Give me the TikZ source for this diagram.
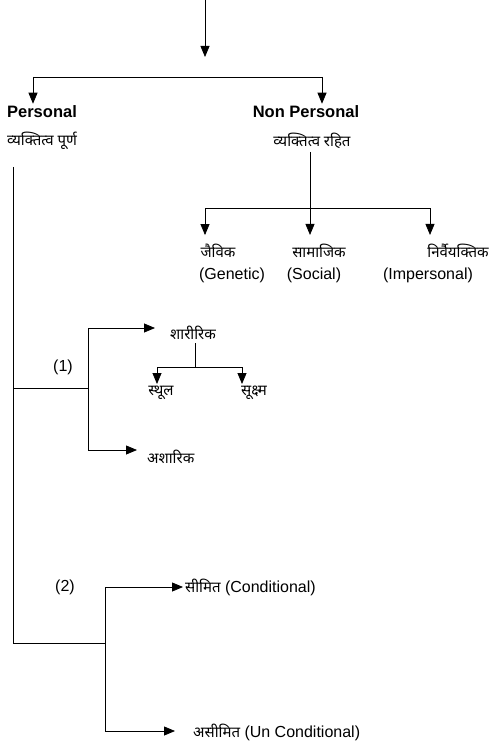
\documentclass[tikz,border=0pt]{standalone}
\usepackage{fontspec}
\setmainfont{Liberation Sans}
\newfontfamily\devafont[Script=Devanagari]{Noto Sans}
\newcommand{\hindi}{\devafont\fontsize{15}{18}\selectfont}
\usetikzlibrary{arrows.meta}

\begin{document}
\begin{tikzpicture}
[x=1pt,y=-1pt,
  headDecorate/.style={font=\bfseries\fontsize{16.5}{19}\selectfont,inner sep=0pt},
  textDecorate/.style={font=\fontsize{16}{19}\selectfont,inner sep=0pt},
  devaDecorate/.style={font=\hindi,inner sep=0pt},
  lineDecorate/.style={-,line width=0.8pt},
  arrowDecorate/.style={-{Triangle[length=11pt,width=9pt]},line width=0.8pt}]
\useasboundingbox (0,0) rectangle (495,746);
%% nodes or labels
\foreach \nodename/\x/\y/\txt in {personal/42/112/Personal, nonpersonal/306/112/Non Personal} {
  \node (\nodename) at (\x,\y) [headDecorate] {\txt};
}
\foreach \nodename/\x/\y/\txt in {vpurn/42/141/व्यक्तित्व पूर्ण, vrahit/312/141/व्यक्तित्व रहित,
    jaivik/218/251/जैविक, samajik/319/251/सामाजिक, nirvai/458/251/निर्वैयक्तिक,
    sthul/161/393/स्थूल, sukshma/254/393/सूक्ष्म} {
  \node (\nodename) at (\x,\y) [devaDecorate] {\txt};
}
\foreach \nodename/\x/\y/\txt in {genetic/232/275/{(Genetic)}, social/314/275/{(Social)},
    impersonal/428/275/{(Impersonal)}, one/63/367/{(1)}, two/65/587/{(2)}} {
  \node (\nodename) at (\x,\y) [textDecorate] {\txt};
}
%% branch labels, left aligned
\foreach \nodename/\x/\y/\txt in {sharirik/170/333/{\hindi शारीरिक}, asharik/147/457/{\hindi अशारिक},
    seemit/185/587/{{\hindi सीमित} (Conditional)}, aseemit/193/732/{{\hindi असीमित} (Un Conditional)}} {
  \node (\nodename) at (\x,\y) [textDecorate,anchor=west] {\txt};
}
%% junctions
\foreach \cname/\x/\y in {rootTop/205/0, rootTip/205/57, splitL/33/77, splitR/322/77,
    pTop/13/167, pBot/13/643, npTop/310/152, npJ/310/208, npL/205/208, npR/430/208,
    b1/13/388, b1J/88/388, b1Top/88/328, b1Bot/88/450,
    shJ/195/343, shM/195/367, shL/157/367, shR/242/367,
    b2J/105/643, b2Top/105/587, b2Bot/105/731} {
  \coordinate (\cname) at (\x,\y);
}
%% edges or lines
\path
\foreach \startnode/\endnode in {splitL/splitR, pTop/pBot, npTop/npJ, npL/npR, b1/b1J,
    b1Top/b1Bot, shJ/shM, shL/shR, pBot/b2J, b2Top/b2Bot} {
  (\startnode) edge[lineDecorate] (\endnode)
};
%% arrows
\draw[arrowDecorate] (rootTop) -- (rootTip);
\path
\foreach \startnode/\endnode/\gap in {splitL/personal/2, splitR/nonpersonal/2,
    npL/jaivik/9, npJ/samajik/9, npR/nirvai/9, shL/sthul/2, shR/sukshma/2} {
  (\startnode) edge[arrowDecorate,shorten >=\gap pt] (\startnode |- \endnode.north)
}
\foreach \startnode/\endnode/\gap in {b1Top/sharirik/15, b1Bot/asharik/10,
    b2Top/seemit/2, b2Bot/aseemit/18} {
  (\startnode) edge[arrowDecorate,shorten >=\gap pt] (\startnode -| \endnode.west)
};
\end{tikzpicture}
\end{document}
